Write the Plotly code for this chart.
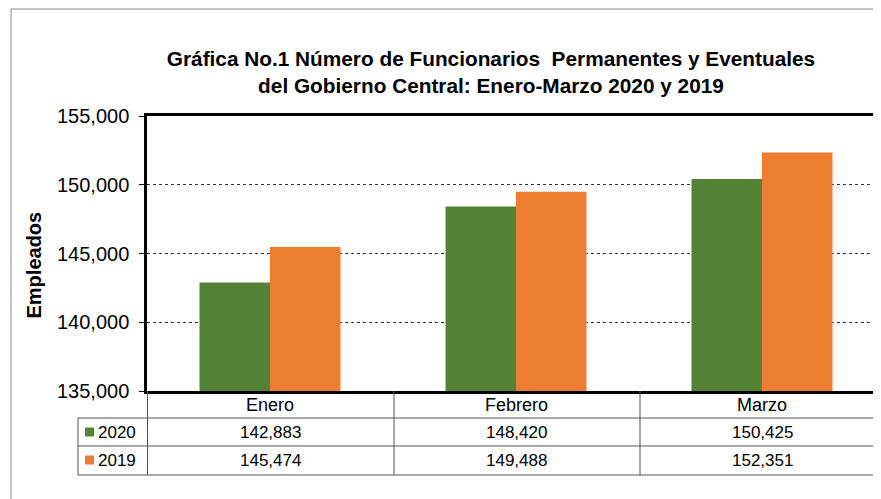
import plotly.graph_objects as go

months = ["Enero", "Febrero", "Marzo"]
years = ["2020", "2019"]
vals_2020 = [142883, 148420, 150425]
vals_2019 = [145474, 149488, 152351]
colors = ["#548235", "#ED7D31"]
y_ticks = [135000, 140000, 145000, 150000, 155000]

OFF = 8  # page body margin
W, H = 881 - OFF, 499 - OFF
# plot area in page pixels
L, R, T, B = 147, 881, 116, 391
PW, PH = R - L, B - T


def px(p):
    return (p - L) / PW


def py(q):
    return (B - q) / PH


FONT = "Liberation Sans, Arial, sans-serif"

fig = go.Figure()
for yr, vals, c in zip(years, [vals_2020, vals_2019], colors):
    fig.add_trace(go.Bar(x=months, y=vals, name=yr, marker_color=c,
                         marker_line_width=0, showlegend=False))

fig.update_layout(
    width=W, height=H,
    margin=dict(l=L - OFF, r=(881 - R), t=T - OFF, b=(499 - B), pad=0),
    paper_bgcolor="white", plot_bgcolor="white",
    barmode="group", bargap=0.427, bargroupgap=0,
    font=dict(family=FONT, color="black"),
    title=dict(text="<b>Gráfica No.1 Número de Funcionarios  Permanentes y Eventuales<br>del Gobierno Central: Enero-Marzo 2020 y 2019</b>",
               x=(491 - OFF) / W, xanchor="center", xref="container",
               y=1 - (66 - OFF) / H, yanchor="middle", yref="container",
               font=dict(size=20.8, family=FONT, color="black")),
    showlegend=False,
)
fig.update_xaxes(range=[-0.5, 2.5 - 4 / 246], showline=True, linecolor="black",
                 linewidth=2.5, mirror=True, showticklabels=False, ticks="",
                 showgrid=False, zeroline=False)
fig.update_yaxes(range=[135000, 155000], tickvals=y_ticks, tickformat=",",
                 showline=True, linecolor="black", linewidth=2.5,
                 ticks="outside", ticklen=5, tickcolor="black", tickwidth=1,
                 ticklabelstandoff=6,
                 tickfont=dict(size=20, family=FONT, color="black"),
                 showgrid=True, gridcolor="#333333", griddash="dot", gridwidth=1,
                 zeroline=False)

shapes = []
ann = []
# outer chart frame (left and top edges)
shapes.append(dict(type="line", xref="paper", yref="paper", x0=px(11), x1=px(11),
                   y0=py(9), y1=py(520), line=dict(color="#8c8c8c", width=1)))
shapes.append(dict(type="line", xref="paper", yref="paper", x0=px(11), x1=px(900),
                   y0=py(9), y1=py(9), line=dict(color="#8c8c8c", width=1)))

# data table
tc = "#555555"
for q in [418, 446, 475]:
    shapes.append(dict(type="line", xref="paper", yref="paper", x0=px(78), x1=px(900),
                       y0=py(q), y1=py(q), line=dict(color=tc, width=1)))
shapes.append(dict(type="line", xref="paper", yref="paper", x0=px(78), x1=px(78),
                   y0=py(418), y1=py(475), line=dict(color=tc, width=1)))
for p in [147.5, 394, 640]:
    shapes.append(dict(type="line", xref="paper", yref="paper", x0=px(p), x1=px(p),
                       y0=py(391), y1=py(475), line=dict(color=tc, width=1)))

# header row: month names
for m in months:
    ann.append(dict(x=m, xref="x", y=py(405), yref="paper", text=m, showarrow=False,
                    font=dict(size=18, family=FONT, color="black"),
                    xanchor="center", yanchor="middle"))
# value rows
for yr, vals, c, yc in zip(years, [vals_2020, vals_2019], colors, [432, 460]):
    shapes.append(dict(type="rect", xref="paper", yref="paper", x0=px(85), x1=px(94),
                       y0=py(yc - 4.5), y1=py(yc + 4.5), fillcolor=c, line=dict(width=0)))
    ann.append(dict(x=px(96), xref="paper", y=py(yc), yref="paper", text=yr,
                    showarrow=False, xanchor="left", yanchor="middle",
                    font=dict(size=17, family=FONT, color="black")))
    for m, v in zip(months, vals):
        ann.append(dict(x=m, xref="x", y=py(yc), yref="paper", text=f"{v:,}",
                        showarrow=False, xanchor="center", yanchor="middle",
                        font=dict(size=17, family=FONT, color="black")))

# y axis title
ann.append(dict(x=px(33.5), xref="paper", y=py(265), yref="paper", text="<b>Empleados</b>",
                textangle=-90, showarrow=False, xanchor="center", yanchor="middle",
                font=dict(size=20, family=FONT, color="black")))

fig.update_layout(shapes=shapes, annotations=ann)
fig.write_html("out.html")
